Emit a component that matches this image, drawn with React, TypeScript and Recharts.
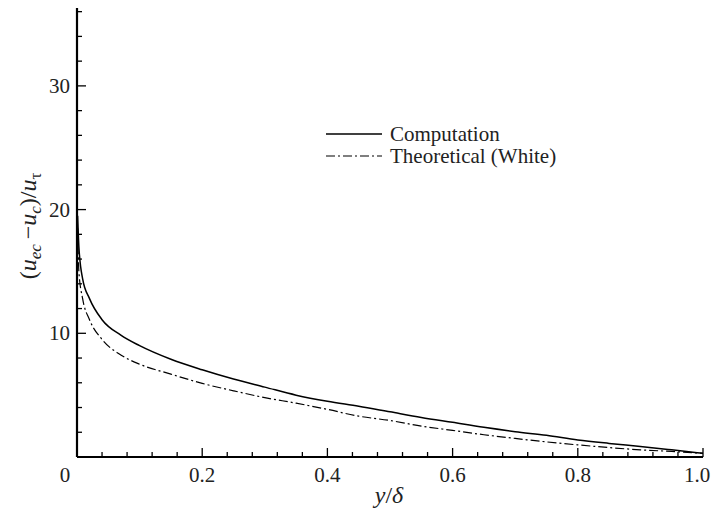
import React from 'react';
import { LineChart, Line, XAxis, YAxis, Legend } from 'recharts';

const xValues = [0.001, 0.003, 0.009, 0.02, 0.04, 0.07, 0.1, 0.15, 0.2, 0.25, 0.3, 0.35, 0.4, 0.45, 0.5, 0.55, 0.6, 0.65, 0.7, 0.75, 0.8, 0.85, 0.9, 0.95, 1.0];
const computation = [19.5, 17.0, 14.4, 12.8, 11.1, 9.85, 9.0, 7.9, 7.05, 6.3, 5.65, 5.0, 4.5, 4.1, 3.65, 3.2, 2.8, 2.4, 2.05, 1.75, 1.38, 1.1, 0.85, 0.58, 0.3];
const theoretical = [18.5, 15.0, 12.8, 11.1, 9.5, 8.25, 7.5, 6.7, 5.95, 5.35, 4.8, 4.35, 3.85, 3.3, 2.95, 2.5, 2.15, 1.8, 1.5, 1.22, 0.98, 0.76, 0.58, 0.45, 0.3];
const xTicks = [0, 0.04, 0.08, 0.12, 0.16, 0.2, 0.24, 0.28, 0.32, 0.36, 0.4, 0.44, 0.48, 0.52, 0.56, 0.6, 0.64, 0.68, 0.72, 0.76, 0.8, 0.84, 0.88, 0.92, 0.96, 1.0];
const yTicks = [0, 2, 4, 6, 8, 10, 12, 14, 16, 18, 20, 22, 24, 26, 28, 30, 32, 34, 36];
const seriesNames = ['Computation', 'Theoretical (White)'];

const data = xValues.map((x, i) => ({ x, comp: computation[i], theo: theoretical[i] }));

const FONT = 'Liberation Serif, DejaVu Serif, serif';
const TEXT = '#222';
const DASH = '9 3 2 3';

const XTick = (props: any) => {
  const { x, y, payload } = props;
  const v = payload.value as number;
  const major = Math.abs(v * 5 - Math.round(v * 5)) < 1e-6;
  return (
    <g>
      <line x1={x} x2={x} y1={y} y2={y - (major ? 9 : 5)} stroke="#000" strokeWidth={1.3} />
      {major && (
        <text x={x + (v === 0 ? -12 : v === 1 ? -6 : 0)} y={y + 25} textAnchor="middle" style={{ fontFamily: FONT }} fontSize={21} fill={TEXT}>
          {v === 0 ? '0' : v.toFixed(1)}
        </text>
      )}
    </g>
  );
};

const YTick = (props: any) => {
  const { x, y, payload } = props;
  const v = payload.value as number;
  const major = v % 10 === 0;
  return (
    <g>
      <line x1={x} x2={x + (major ? 9 : 5)} y1={y} y2={y} stroke="#000" strokeWidth={1.3} />
      {major && v !== 0 && (
        <text x={x - 7} y={y + 7} textAnchor="end" style={{ fontFamily: FONT }} fontSize={21} fill={TEXT}>
          {v}
        </text>
      )}
    </g>
  );
};

const YLabel = () => (
  <text transform="translate(36,226) rotate(-90)" textAnchor="middle" style={{ fontFamily: FONT }} fontSize={24} fill={TEXT}>
    <tspan>(</tspan>
    <tspan fontStyle="italic">u</tspan>
    <tspan fontStyle="italic" fontSize={17} dy={5}>ec</tspan>
    <tspan dy={-5}>{'\u2009\u2212'}</tspan>
    <tspan fontStyle="italic">u</tspan>
    <tspan fontStyle="italic" fontSize={17} dy={5}>c</tspan>
    <tspan dy={-5}>)/</tspan>
    <tspan fontStyle="italic">u</tspan>
    <tspan fontSize={17} dy={5}>τ</tspan>
  </text>
);

const XLabel = () => (
  <text x={389} y={503} textAnchor="middle" style={{ fontFamily: FONT }} fontSize={24} fill={TEXT}>
    <tspan fontStyle="italic">y</tspan>
    <tspan>/</tspan>
    <tspan fontStyle="italic">δ</tspan>
  </text>
);

const LegendContent = () => (
  <div style={{ fontFamily: FONT, fontSize: 21, color: TEXT, lineHeight: '22px' }}>
    {seriesNames.map((name, i) => (
      <div key={name} style={{ display: 'flex', alignItems: 'center', height: 22 }}>
        <svg width={56} height={10} style={{ marginRight: 8 }}>
          <line x1={0} x2={56} y1={5} y2={5} stroke="#000" strokeWidth={i === 0 ? 1.5 : 1.2} strokeDasharray={i === 0 ? undefined : DASH} />
        </svg>
        <span style={{ whiteSpace: 'nowrap' }}>{name}</span>
      </div>
    ))}
  </div>
);

export default function App() {
  return (
    <div style={{ margin: -8, width: 720, height: 519, background: '#fff', fontFamily: FONT }}>
      <LineChart width={720} height={519} data={data} margin={{ top: 3, right: 17, bottom: 0, left: 0 }}>
        <XAxis
          dataKey="x"
          type="number"
          domain={[0, 1]}
          ticks={xTicks}
          interval={0}
          tickSize={0}
          tickMargin={0}
          tickLine={false}
          tick={<XTick />}
          height={62}
          axisLine={{ stroke: '#000', strokeWidth: 2.2 }}
          label={<XLabel />}
        />
        <YAxis
          type="number"
          domain={[0, 36.7]}
          ticks={yTicks}
          interval={0}
          tickSize={0}
          tickMargin={0}
          tickLine={false}
          tick={<YTick />}
          width={77}
          axisLine={{ stroke: '#000', strokeWidth: 2.2 }}
          label={<YLabel />}
          allowDataOverflow
        />
        <Legend
          verticalAlign="middle"
          align="center"
          content={<LegendContent />}
          wrapperStyle={{ left: 326, top: 123, width: 300, height: 44 }}
        />
        <Line dataKey="comp" name={seriesNames[0]} type="monotone" stroke="#000" strokeWidth={1.5} dot={false} isAnimationActive={false} />
        <Line dataKey="theo" name={seriesNames[1]} type="monotone" stroke="#000" strokeWidth={1.2} strokeDasharray={DASH} dot={false} isAnimationActive={false} />
      </LineChart>
    </div>
  );
}
